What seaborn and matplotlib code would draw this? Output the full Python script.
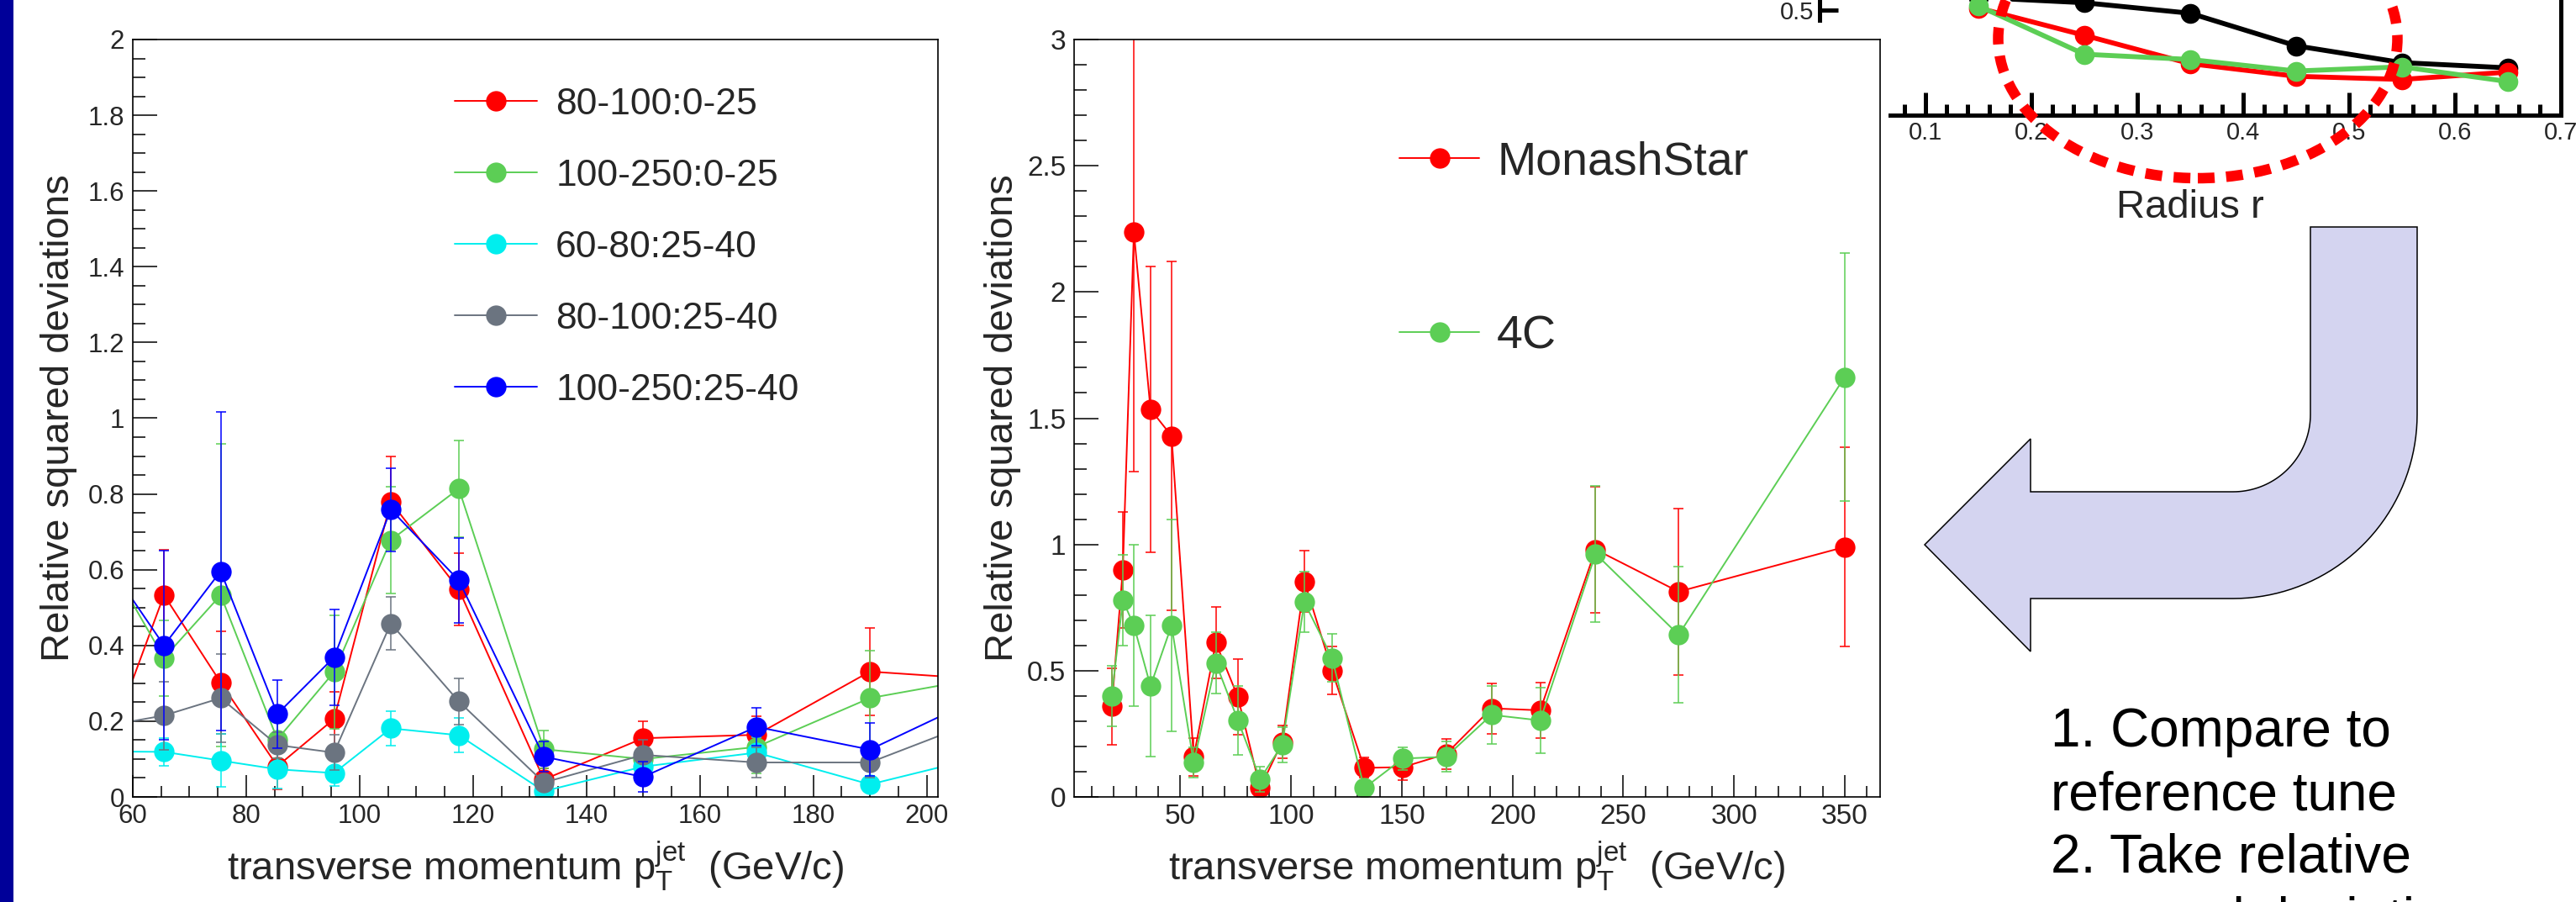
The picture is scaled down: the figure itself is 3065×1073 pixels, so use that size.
import numpy as np
import matplotlib
matplotlib.use("Agg")
import matplotlib.pyplot as plt
import seaborn as sns
from matplotlib.patches import Rectangle, Ellipse, PathPatch
from matplotlib.path import Path
from matplotlib.ticker import MultipleLocator, FuncFormatter, FixedLocator, NullLocator

W, H = 3065, 1073

# ==================================================
# 1. DATA
# ==================================================
# left panel (first / last point sit just outside the drawn x range)
pt_left = [55, 65.5, 75.5, 85.5, 95.5, 105.5, 117.5, 132.5, 150, 170, 190, 215]
left_names = ["80-100:0-25", "100-250:0-25", "60-80:25-40", "80-100:25-40", "100-250:25-40"]
left_colors = ["#ff0000", "#5cce55", "#00eeee", "#6b7480", "#0000ff"]

dev_80_100_c0 = [0.107, 0.533, 0.302, 0.081, 0.206, 0.779, 0.548, 0.046, 0.155, 0.164, 0.331, 0.306]
err_80_100_c0 = [0, 0.12, 0.135, 0.06, 0.072, 0.12, 0.095, 0.03, 0.045, 0.05, 0.115, 0]
dev_100_250_c0 = [0.64, 0.367, 0.533, 0.152, 0.33, 0.678, 0.814, 0.126, 0.10, 0.132, 0.261, 0.328]
err_100_250_c0 = [0, 0.1, 0.4, 0.05, 0.15, 0.14, 0.127, 0.05, 0.03, 0.07, 0.125, 0]
dev_60_80_c25 = [0.12, 0.119, 0.096, 0.073, 0.063, 0.181, 0.163, 0.015, 0.08, 0.117, 0.033, 0.125]
err_60_80_c25 = [0, 0.037, 0.07, 0.05, 0.035, 0.045, 0.045, 0.02, 0.03, 0.04, 0.02, 0]
dev_80_100_c25 = [0.187, 0.215, 0.261, 0.137, 0.117, 0.458, 0.252, 0.038, 0.111, 0.091, 0.091, 0.235]
err_80_100_c25 = [0, 0.09, 0.117, 0.035, 0.047, 0.07, 0.06, 0.02, 0.04, 0.04, 0.04, 0]
dev_100_250_c25 = [0.63, 0.40, 0.596, 0.219, 0.369, 0.759, 0.572, 0.106, 0.053, 0.185, 0.125, 0.302]
err_100_250_c25 = [0, 0.25, 0.42, 0.09, 0.126, 0.11, 0.112, 0.04, 0.04, 0.05, 0.07, 0]

left_vals = [dev_80_100_c0, dev_100_250_c0, dev_60_80_c25, dev_80_100_c25, dev_100_250_c25]
left_errs = [err_80_100_c0, err_100_250_c0, err_60_80_c25, err_80_100_c25, err_100_250_c25]

# middle panel
pt_mid = [19, 24, 29, 36.5, 46, 56, 66, 76, 86, 96, 106, 118.5, 133, 150.5, 170, 190.5, 212.5, 237.5, 275, 350]
mid_names = ["MonashStar", "4C"]
mid_colors = ["#ff0000", "#5cce55"]
monash = [0.358, 0.90, 2.237, 1.535, 1.43, 0.159, 0.611, 0.395, 0.035, 0.218, 0.854, 0.50,
          0.115, 0.118, 0.17, 0.351, 0.343, 0.98, 0.813, 0.99]
monash_err = [0.15, 0.23, 0.95, 0.565, 0.69, 0.075, 0.14, 0.15, 0.03, 0.065, 0.12, 0.095,
              0.04, 0.05, 0.06, 0.1, 0.11, 0.25, 0.33, 0.395]
tune_4c = [0.40, 0.779, 0.679, 0.439, 0.679, 0.135, 0.531, 0.303, 0.071, 0.207, 0.771, 0.55,
           0.035, 0.152, 0.159, 0.325, 0.303, 0.963, 0.642, 1.663]
tune_4c_err = [0.12, 0.18, 0.32, 0.28, 0.42, 0.06, 0.12, 0.135, 0.05, 0.07, 0.12, 0.095,
               0.03, 0.045, 0.06, 0.115, 0.13, 0.27, 0.27, 0.49]

# inset (jet shape vs radius, only the lower part is visible)
radius = [0.15, 0.25, 0.35, 0.45, 0.55, 0.65]
shape_ref = [0.512, 0.507, 0.497, 0.466, 0.450, 0.445]
shape_monash = [0.502, 0.476, 0.449, 0.437, 0.434, 0.441]
shape_4c = [0.504, 0.458, 0.453, 0.442, 0.446, 0.432]
inset_colors = ["black", "#ff0000", "#5cce55"]

slide_lines = ["1. Compare to", "reference tune", "2. Take relative", "squared deviations"]

# ==================================================
# 2. STYLE
# ==================================================
sns.set_theme(style="ticks")
plt.rcParams["font.family"] = ["Liberation Sans", "DejaVu Sans"]
plt.rcParams["mathtext.default"] = "regular"
plt.rcParams["axes.edgecolor"] = "black"
plt.rcParams["axes.linewidth"] = 1.2


def fx(x):
    return x / W


def fy(y):
    return 1 - y / H


def box(x0, y0, x1, y1):
    # pixel box (top-left origin) -> figure fraction rect
    return [fx(x0), fy(y1), (x1 - x0) / W, (y1 - y0) / H]


def draw_series(ax, x, y, e, color, label, ms=17.5, lw=1.4):
    ax.errorbar(x, y, yerr=e, fmt="none", ecolor=color, elinewidth=1.1,
                capsize=4, capthick=1.1, label="_nolegend_")
    sns.lineplot(x=x, y=y, ax=ax, color=color, marker="o", markersize=ms,
                 markeredgecolor=color, markeredgewidth=0, linewidth=lw,
                 label=label, sort=False, estimator=None)


def root_axes(ax, xmaj, xmin, ymaj, ymin, tsize):
    ax.xaxis.set_major_locator(MultipleLocator(xmaj))
    ax.xaxis.set_minor_locator(MultipleLocator(xmin))
    ax.yaxis.set_major_locator(MultipleLocator(ymaj))
    ax.yaxis.set_minor_locator(MultipleLocator(ymin))
    fmt = FuncFormatter(lambda v, p: f"{v:g}")
    ax.xaxis.set_major_formatter(fmt)
    ax.yaxis.set_major_formatter(fmt)
    ax.tick_params(which="both", direction="in", top=False, right=False,
                   bottom=True, left=True, color="black", width=1.1)
    ax.tick_params(axis="x", which="major", length=19, pad=5.5, labelsize=tsize)
    ax.tick_params(axis="x", which="minor", length=9.5)
    ax.tick_params(axis="y", which="major", length=21, pad=7, labelsize=tsize)
    ax.tick_params(axis="y", which="minor", length=10.5)
    for s in ax.spines.values():
        s.set_visible(True)
        s.set_color("black")
        s.set_linewidth(1.2)


xlabel_txt = r"transverse momentum $p_{T}^{jet}$  (GeV/c)"
ylabel_txt = "Relative squared deviations"

fig = plt.figure(figsize=(W / 100, H / 100), dpi=100)

# ==================================================
# 3. INSET (drawn first, partly hidden behind the middle plot)
# ==================================================
ax_in = fig.add_axes(box(2165, -113, 3047, 137))
ax_in.set_zorder(1)
for vals, c in zip([shape_ref, shape_monash, shape_4c], inset_colors):
    sns.lineplot(x=radius, y=vals, ax=ax_in, color=c, marker="o", markersize=17,
                 markeredgecolor=c, markeredgewidth=0, linewidth=4.2,
                 sort=False, estimator=None)
ax_in.set_xlim(0, 0.7)
ax_in.set_ylim(0.4, 0.6)
ax_in.xaxis.set_major_locator(MultipleLocator(0.1))
ax_in.xaxis.set_minor_locator(MultipleLocator(0.02))
ax_in.yaxis.set_major_locator(FixedLocator([0.5]))
ax_in.yaxis.set_minor_locator(NullLocator())
ax_in.xaxis.set_major_formatter(FuncFormatter(lambda v, p: f"{v:g}" if v > 0 else ""))
ax_in.tick_params(which="both", direction="in", top=False, right=False,
                  bottom=True, left=True, width=3.6, color="black")
ax_in.tick_params(axis="x", which="major", length=19.5, pad=5, labelsize=21)
ax_in.tick_params(axis="x", which="minor", length=9.5)
ax_in.tick_params(axis="y", which="major", length=16, pad=5, labelsize=21)
for s in ax_in.spines.values():
    s.set_linewidth(3.6)
    s.set_color("black")
ax_in.spines["top"].set_visible(False)
ax_in.set_xlabel("Radius r", fontsize=34)
ax_in.xaxis.set_label_coords(0.5, -0.488)
ax_in.xaxis.label.set_va("baseline")
ax_in.set_ylabel("")

# white background of the middle picture covering the inset corner
fig.add_artist(Rectangle((fx(1125), 0), fx(2247) - fx(1125), fy(27),
                         transform=fig.transFigure, facecolor="white",
                         edgecolor="none", zorder=2))

# ==================================================
# 4. LEFT PANEL
# ==================================================
ax1 = fig.add_axes(box(158, 47, 1116, 948))
ax1.set_zorder(3)
for vals, errs, c, name in zip(left_vals, left_errs, left_colors, left_names):
    draw_series(ax1, pt_left, vals, errs, c, name)
ax1.set_xlim(60, 202)
ax1.set_ylim(0, 2)
root_axes(ax1, 20, 5, 0.2, 0.05, 22.5)
ax1.legend(loc="upper left", bbox_to_anchor=(0.40, 0.937), frameon=False,
           fontsize=32, handlelength=2.2, handletextpad=0.5, labelspacing=0.99,
           borderaxespad=0, borderpad=0)
ax1.set_xlabel(xlabel_txt, fontsize=34)
ax1.xaxis.set_label_coords(0.5, -0.1099)
ax1.xaxis.label.set_va("baseline")
ax1.set_ylabel(ylabel_txt, fontsize=34)
ax1.yaxis.set_label_coords(-0.0793, 0.5)
ax1.yaxis.label.set_va("baseline")

# ==================================================
# 5. MIDDLE PANEL
# ==================================================
ax2 = fig.add_axes(box(1278, 47, 2237, 948))
ax2.set_zorder(3)
for vals, errs, c, name in zip([monash, tune_4c], [monash_err, tune_4c_err], mid_colors, mid_names):
    draw_series(ax2, pt_mid, vals, errs, c, name)
ax2.set_xlim(2, 366)
ax2.set_ylim(0, 3)
root_axes(ax2, 50, 10, 0.5, 0.1, 24)
ax2.legend(loc="upper left", bbox_to_anchor=(0.4036, 0.8665), frameon=False,
           fontsize=40, handlelength=1.71, handletextpad=0.38, labelspacing=2.8,
           borderaxespad=0, borderpad=0)
ax2.set_xlabel(xlabel_txt, fontsize=34)
ax2.xaxis.set_label_coords(0.5, -0.1099)
ax2.xaxis.label.set_va("baseline")
ax2.set_ylabel(ylabel_txt, fontsize=34)
ax2.yaxis.set_label_coords(-0.0761, 0.5)
ax2.yaxis.label.set_va("baseline")

# ==================================================
# 6. SLIDE DECORATION
# ==================================================
fig.add_artist(Rectangle((0, 0), fx(16), 1, transform=fig.transFigure,
                         facecolor="#000099", edgecolor="none", zorder=5))

# bent arrow (pixel outline)
cx, cy, r_in, r_out = 2657, 493, 92, 219
t = np.linspace(0, np.pi / 2, 40)
outer = [(cx + r_out * np.cos(a), cy + r_out * np.sin(a)) for a in t]
inner = [(cx + r_in * np.cos(a), cy + r_in * np.sin(a)) for a in t[::-1]]
pts = [(2749, 270), (2876, 270)] + outer + [(2416, 712), (2416, 775), (2290, 648),
                                            (2416, 522), (2416, 585)] + inner + [(2749, 270)]
verts = [(fx(x), fy(y)) for x, y in pts]
codes = [Path.MOVETO] + [Path.LINETO] * (len(verts) - 2) + [Path.CLOSEPOLY]
fig.add_artist(PathPatch(Path(verts, codes), transform=fig.transFigure,
                         facecolor="#d4d4f0", edgecolor="black", linewidth=1.1, zorder=5))

# dashed red ellipse around the inset curves
fig.add_artist(Ellipse((fx(2615), fy(46)), 475 / W, 332 / H, transform=fig.transFigure,
                       fill=False, edgecolor="#ff0000", linewidth=9,
                       linestyle=(0, (1.6, 1.1)), zorder=6))

for i, line in enumerate(slide_lines):
    fig.text(fx(2440), fy(888 + 75 * i), line, fontsize=46, ha="left", va="baseline",
             color="black", zorder=6)

fig.savefig("out.png", dpi=100)
